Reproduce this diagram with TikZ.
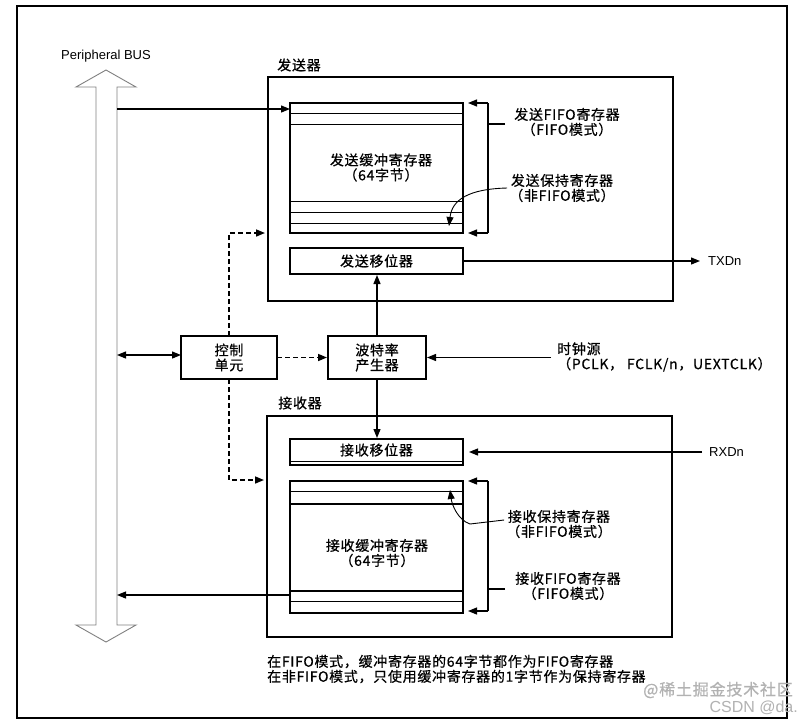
\documentclass[tikz,border=0pt]{standalone}
\usepackage{fontspec}
\setmainfont{Liberation Sans}
\newfontfamily\cjk[LetterSpace=5,FakeBold=0.6]{Noto Sans CJK SC}
\usetikzlibrary{arrows.meta}
\tikzset{
  ln/.style={line width=1.2pt, draw=black},
  arr/.style={ln, -{Triangle[length=9pt,width=7pt]}},
  darr/.style={ln, {Triangle[length=9pt,width=7pt]}-{Triangle[length=9pt,width=7pt]}},
  dsh/.style={arr, line width=1.6pt, dash pattern=on 5pt off 3pt},
  box/.style={ln, rectangle, inner sep=0pt, outer sep=0pt},
  zh/.style={font=\cjk\fontsize{14}{15}\selectfont, align=center, inner sep=0pt},
  zhl/.style={font=\cjk\fontsize{14}{15}\selectfont, align=left, inner sep=0pt},
  en/.style={font=\fontsize{13}{15}\selectfont, inner sep=0pt},
  wm/.style={text=black!30, inner sep=0pt},
}
\begin{document}
\begin{tikzpicture}[x=1pt,y=-1pt]
\useasboundingbox (0,0) rectangle (808,723);
\fill[white] (0,0) rectangle (808,723);
% outer frame
\node[box, minimum width=770pt, minimum height=712pt] (frame) at (402,362) {};
% peripheral bus
\node[en] (buslbl) at (106,56) {Peripheral BUS};
\draw[line width=0.9pt, draw=black!50, fill=white]
  (96,87) -- (76,87) -- (106,70) -- (136,87) -- (117,87) -- (117,625)
  -- (136,625) -- (106,642) -- (76,625) -- (96,625) -- cycle;
\coordinate (bus1) at (117,109);
\coordinate (bus2) at (117,355);
\coordinate (bus3) at (117,595);
% transmitter
\node[zh] (txlbl) at (299,65) {发送器};
\node[box, minimum width=405pt, minimum height=224pt] (txouter) at (470.5,189) {};
\node[box, minimum width=173pt, minimum height=130pt] (txbuf) at (376.5,168) {};
\foreach \yy in {113.3,124.7,201.7,212.3,223.3}
  \draw[ln] (290,\yy) -- (463,\yy);
\node[zh] (txbuftxt) at (381,167.5) {发送缓冲寄存器\\（64字节）};
\node[box, minimum width=173pt, minimum height=26pt, font=\cjk\fontsize{14}{15}\selectfont] (txsh) at (376.5,261) {发送移位器};
% tx fifo bracket
\coordinate (tbt) at (488,103);
\coordinate (tbb) at (488,233);
\coordinate (tbk) at (505,124);
\draw[ln] (tbt) -- (tbb);
\draw[ln] (tbk) -- (tbk -| tbt);
\draw[arr, shorten >=5pt] (tbt) -- (tbt -| txbuf.east);
\draw[arr, shorten >=5pt] (tbb) -- (tbb -| txbuf.east);
\node[zh] (txfifo) at (567,122) {发送FIFO寄存器\\（FIFO模式）};
\node[zh] (txhold) at (562,188) {发送保持寄存器\\（非FIFO模式）};
\coordinate (txhtip) at (449,226);
\draw[arr, line width=0.9pt] ([xshift=-2pt]txhold.west) .. controls (468,189) and (452,200) .. (txhtip);
% bus to tx buffer
\draw[arr] (bus1) -- (txbuf.west |- bus1);
% TXDn
\coordinate (txd) at (700,261);
\draw[arr] (txsh.east) -- (txd);
\node[en, anchor=west] (txdlbl) at (708,261) {TXDn};
% control unit and baud
\node[box, minimum width=96pt, minimum height=43pt, zh] (ctrl) at (229,357.5) {控制\\单元};
\node[box, minimum width=98pt, minimum height=43pt, zh] (baud) at (377,357.5) {波特率\\产生器};
\draw[darr] (bus2) -- (ctrl.west |- bus2);
\coordinate (tc) at (268,233);
\coordinate (rc) at (267,480);
\draw[dsh, shorten >=3pt] (ctrl.north) |- (tc);
\draw[dsh, shorten >=3pt] (ctrl.south) |- (rc);
\draw[dsh, shorten >=1pt] (ctrl.east) -- (baud.west);
\draw[arr, shorten >=1pt] (baud.north) -- (baud.north |- txsh.south);
% clock
\coordinate (clk) at (551,357.5);
\draw[arr, shorten >=1pt] (clk) -- (baud.east);
\node[zhl, anchor=west] (clklbl) at (557,357) {时钟源\\（PCLK，\ FCLK/n，UEXTCLK）};
% receiver
\node[zh] (rxlbl) at (300,403) {接收器};
\node[box, minimum width=405pt, minimum height=221pt] (rxouter) at (469.5,526.5) {};
\node[box, minimum width=173pt, minimum height=26pt] (rxsh) at (376.5,452) {};
\draw[ln] (290,461.5) -- (463,461.5);
\node[zh] (rxshtxt) at (376.5,450) {接收移位器};
\draw[arr, shorten >=1pt] (baud.south) -- (baud.south |- rxsh.north);
\node[box, minimum width=173pt, minimum height=132pt] (rxbuf) at (376.5,547) {};
\foreach \yy in {491.3,504,591,601.7}
  \draw[ln] (290,\yy) -- (463,\yy);
\node[zh] (rxbuftxt) at (377,553) {接收缓冲寄存器\\（64字节）};
% RXDn
\coordinate (rxd) at (702,452);
\draw[arr, shorten >=6pt] (rxd) -- (rxsh.east);
\node[en, anchor=west] (rxdlbl) at (709,452) {RXDn};
% rx fifo bracket
\coordinate (rbt) at (488,481);
\coordinate (rbb) at (488,611);
\coordinate (rbk) at (505,589);
\draw[ln] (rbt) -- (rbb);
\draw[ln] (rbk) -- (rbk -| rbt);
\draw[arr, shorten >=5pt] (rbt) -- (rbt -| rxbuf.east);
\draw[arr, shorten >=5pt] (rbb) -- (rbb -| rxbuf.east);
\node[zh] (rxfifo) at (568,586) {接收FIFO寄存器\\（FIFO模式）};
\node[zh] (rxhold) at (559,524) {接收保持寄存器\\（非FIFO模式）};
\coordinate (rxhtip) at (450,490);
\draw[arr, line width=0.9pt] ([xshift=-2pt,yshift=4pt]rxhold.west) -- (470,524) .. controls (458,520) and (452,505) .. (rxhtip);
% rx buffer to bus
\draw[arr] (rxbuf.west |- bus3) -- (bus3);
% notes
\node[zhl, anchor=west] (notes) at (267,669) {在FIFO模式，缓冲寄存器的64字节都作为FIFO寄存器\\在非FIFO模式，只使用缓冲寄存器的1字节作为保持寄存器};
% watermark
\node[wm, anchor=east, font=\cjk\fontsize{16}{16}\selectfont] (wm1) at (793,690) {@稀土掘金技术社区};
\node[wm, anchor=east, font=\fontsize{16}{16}\selectfont] (wm2) at (798,708) {CSDN @da.};
\end{tikzpicture}
\end{document}
